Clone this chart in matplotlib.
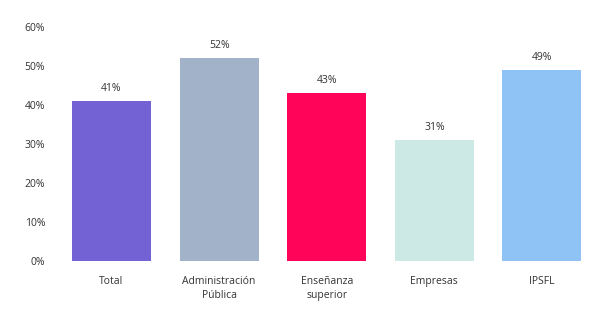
import matplotlib.pyplot as plt
from matplotlib.ticker import PercentFormatter

categorias = ["Total", "Administración\nPública", "Enseñanza\nsuperior", "Empresas", "IPSFL"]
valores = [0.41, 0.52, 0.43, 0.31, 0.49]
etiquetas = ["41%", "52%", "43%", "31%", "49%"]
colores = ["#7262d4", "#a2b2c8", "#ff0459", "#cce9e5", "#8fc3f6"]

plt.rcParams['font.family'] = ['Open Sans', 'DejaVu Sans']

fig = plt.figure(figsize=(6.11, 3.09), dpi=100)
ax = fig.add_axes([0.0945, 0.155, 0.8805, 0.758])

x = range(len(categorias))
barras = ax.bar(x, valores, width=0.735, color=colores)

# etiquetas encima de las barras
for b, txt in zip(barras, etiquetas):
    ax.annotate(txt, (b.get_x() + b.get_width() / 2, b.get_height()),
                xytext=(0, 5), textcoords='offset points',
                ha='center', va='bottom', fontsize=7.5, color='#333333')

ax.set_xlim(-0.5, 4.5)
ax.set_ylim(0, 0.6)
ax.set_yticks([0, 0.1, 0.2, 0.3, 0.4, 0.5, 0.6])
ax.yaxis.set_major_formatter(PercentFormatter(1.0, decimals=0))
ax.set_xticks(list(x))
ax.set_xticklabels(categorias, fontsize=7.5, color='#333333', linespacing=1.35)
ax.tick_params(axis='y', labelsize=7.5, labelcolor='#333333', length=0, pad=9)
ax.tick_params(axis='x', length=0, pad=11)

for s in ax.spines.values():
    s.set_visible(False)

plt.savefig("out.png", dpi=100)
